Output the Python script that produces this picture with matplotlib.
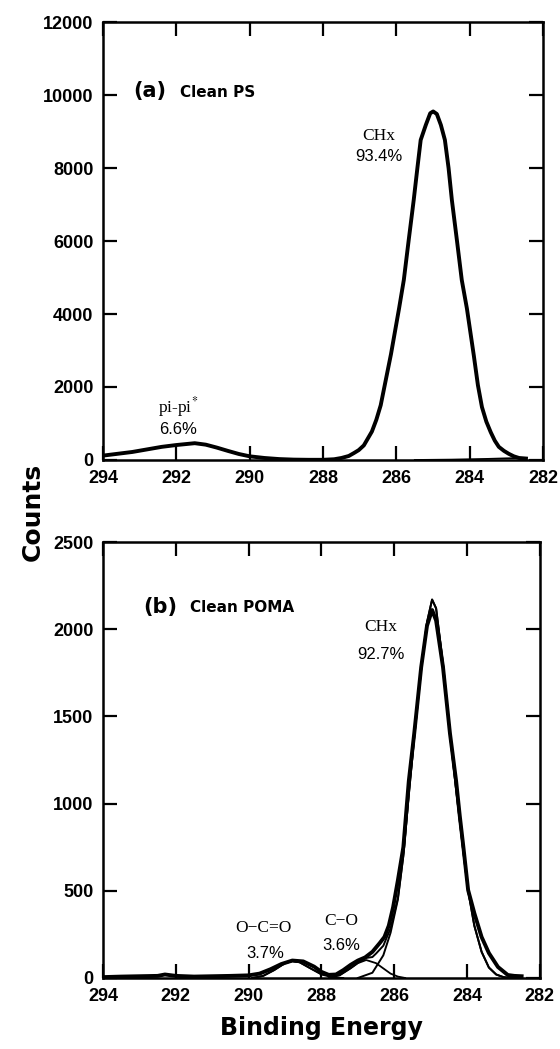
import matplotlib
matplotlib.use("Agg")
import matplotlib.pyplot as plt
import numpy as np

# ---- panel (a): clean PS, C 1s spectrum
ps_energy = [294.0, 293.6, 293.2, 292.8, 292.4, 292.0, 291.7, 291.5, 291.2, 290.9,
             290.6, 290.3, 290.0, 289.6, 289.2, 288.8, 288.4, 288.0, 287.7, 287.5,
             287.3, 287.16, 287.03, 286.89, 286.67, 286.55, 286.43, 286.3, 286.15, 285.93,
             285.8, 285.67, 285.53, 285.43, 285.34, 285.2, 285.08, 285.0, 284.9, 284.79,
             284.68, 284.58, 284.49, 284.35, 284.22, 284.08, 283.89, 283.78, 283.67, 283.55,
             283.43, 283.32, 283.21, 283.07, 282.94, 282.8, 282.66, 282.47]
ps_counts = [120, 170, 220, 290, 360, 410, 440, 460, 420, 340,
             250, 165, 100, 55, 25, 10, 5, 5, 20, 55,
             110, 190, 270, 400, 780, 1100, 1500, 2150, 2900, 4150,
             4932, 6000, 7124, 8000, 8768, 9180, 9500, 9550, 9480, 9180,
             8768, 8000, 7124, 6000, 4932, 4150, 2850, 2050, 1450, 1050,
             760, 530, 360, 250, 170, 100, 55, 40]
ps_bg_energy = [285.5, 284.5, 283.5, 283.0, 282.5]
ps_bg_counts = [0, 10, 30, 45, 55]

# ---- panel (b): clean POMA
poma_energy = [294.0, 293.5, 293.0, 292.5, 292.3, 292.0, 291.5, 291.0, 290.5, 290.0,
               289.7, 289.4, 289.1, 288.8, 288.5, 288.2, 288.0, 287.8, 287.6, 287.4,
               287.2, 287.0, 286.8, 286.6, 286.4, 286.27, 286.15, 286.03, 285.9, 285.75,
               285.6, 285.45, 285.26, 285.1, 284.96, 284.85, 284.66, 284.47, 284.3, 284.2,
               284.1, 283.97, 283.8, 283.6, 283.4, 283.15, 282.88, 282.7, 282.5]
poma_counts = [5, 8, 10, 12, 20, 12, 8, 10, 12, 15,
               25, 50, 80, 100, 95, 65, 35, 18, 20, 45,
               75, 100, 118, 150, 200, 235, 300, 407, 560, 750,
               1129, 1404, 1782, 2020, 2110, 2050, 1782, 1404, 1129, 930,
               750, 504, 372, 235, 143, 63, 17, 12, 10]

chx_energy = [287.0, 286.6, 286.3, 286.1, 285.9, 285.75, 285.6, 285.45, 285.26, 285.1,
              284.96, 284.85, 284.66, 284.47, 284.3, 284.2, 284.1, 283.97, 283.8, 283.6,
              283.4, 283.2, 283.0, 282.8]
chx_counts = [0, 30, 130, 260, 450, 700, 1050, 1380, 1770, 2040,
              2170, 2120, 1800, 1400, 1080, 900, 720, 500, 300, 150,
              60, 20, 5, 0]

co_energy = [287.8, 287.5, 287.2, 287.0, 286.77, 286.5, 286.3, 286.1, 285.9, 285.7]
co_counts = [0, 15, 55, 85, 103, 85, 55, 25, 8, 0]

oco_energy = [289.9, 289.6, 289.3, 289.0, 288.8, 288.6, 288.3, 288.0, 287.7, 287.4]
oco_counts = [0, 12, 45, 85, 97, 90, 55, 20, 4, 0]

env_energy = [289.9, 289.6, 289.3, 289.0, 288.8, 288.6, 288.3, 288.0, 287.7, 287.5,
              287.2, 287.0, 286.77, 286.6, 286.5, 286.3, 286.1, 285.9, 285.75, 285.6,
              285.45, 285.26, 285.1, 284.96, 284.85, 284.66, 284.47, 284.3, 284.2, 284.1,
              283.97, 283.8, 283.6, 283.4, 283.2, 283.0, 282.8, 282.5]
env_counts = [0, 12, 45, 85, 97, 90, 55, 22, 12, 17,
              57, 87, 115, 120, 140, 185, 285, 458, 702, 1050,
              1380, 1770, 2040, 2170, 2120, 1800, 1400, 1080, 900, 720,
              500, 300, 150, 60, 20, 5, 0, 0]

x_ticks = [294, 292, 290, 288, 286, 284, 282]
ps_yticks = [0, 2000, 4000, 6000, 8000, 10000, 12000]
poma_yticks = [0, 500, 1000, 1500, 2000, 2500]

plt.rcParams["mathtext.fontset"] = "stix"
tick_font = {"family": "Liberation Sans", "weight": "bold", "size": 13}
serif = "Liberation Serif"
sans = "Liberation Sans"

fig = plt.figure(figsize=(5.6, 10.49), dpi=100)
ax1 = fig.add_axes([0.184, 0.5615, 0.786, 0.4175])
ax2 = fig.add_axes([0.184, 0.0677, 0.780, 0.4156])

for ax, yt in zip([ax1, ax2], [ps_yticks, poma_yticks]):
    ax.set_xlim(294, 282)
    ax.set_ylim(yt[0], yt[-1])
    ax.set_xticks(x_ticks)
    ax.set_yticks(yt)
    ax.set_xticklabels([str(t) for t in x_ticks], fontdict=tick_font)
    ax.set_yticklabels([str(t) for t in yt], fontdict=tick_font)
    ax.tick_params(direction="in", length=10, width=1.6, top=True, right=True, pad=7)
    for sp in ax.spines.values():
        sp.set_linewidth(1.8)

# (a) clean PS
ax1.plot(ps_energy, ps_counts, color="black", lw=2.8, solid_joinstyle="round")
ax1.plot(ps_bg_energy, ps_bg_counts, color="black", lw=1.3)
ax1.text(0.068, 0.842, "(a)", transform=ax1.transAxes, fontsize=15,
         fontweight="bold", family="DejaVu Sans", va="center")
ax1.text(0.175, 0.840, "Clean PS", transform=ax1.transAxes, fontsize=11,
         fontweight="bold", family="DejaVu Sans", va="center")
ax1.text(286.48, 8878, "CHx", family=serif, fontsize=12.5, ha="center", va="center")
ax1.text(286.48, 8302, "93.4%", family=sans, fontsize=12, ha="center", va="center")
ax1.text(291.96, 1452, "pi-pi$^{*}$", family=serif, fontsize=12.5, ha="center", va="center")
ax1.text(291.96, 822, "6.6%", family=sans, fontsize=12, ha="center", va="center")

# (b) clean POMA
ax2.plot(poma_energy, poma_counts, color="black", lw=2.8, solid_joinstyle="round")
ax2.plot(env_energy, env_counts, color="black", lw=1.4)
ax2.plot(chx_energy, chx_counts, color="black", lw=1.4)
ax2.plot(co_energy, co_counts, color="black", lw=1.3)
ax2.plot(oco_energy, oco_counts, color="black", lw=1.3)
ax2.text(0.092, 0.851, "(b)", transform=ax2.transAxes, fontsize=15,
         fontweight="bold", family="DejaVu Sans", va="center")
ax2.text(0.199, 0.849, "Clean POMA", transform=ax2.transAxes, fontsize=11,
         fontweight="bold", family="DejaVu Sans", va="center")
ax2.text(286.36, 2011, "CHx", family=serif, fontsize=12.5, ha="center", va="center")
ax2.text(286.36, 1857, "92.7%", family=sans, fontsize=12, ha="center", va="center")
ax2.text(289.59, 287, "O\u2212C=O", family=serif, fontsize=12.5, ha="center", va="center")
ax2.text(289.55, 138, "3.7%", family=sans, fontsize=12, ha="center", va="center")
ax2.text(287.45, 327, "C\u2212O", family=serif, fontsize=12.5, ha="center", va="center")
ax2.text(287.45, 189, "3.6%", family=sans, fontsize=12, ha="center", va="center")

ax2.set_xlabel("Binding Energy", fontsize=17, fontweight="bold", family="DejaVu Sans", labelpad=8)
fig.text(33 / 560, 1 - 512 / 1049, "Counts", rotation=90, fontsize=18,
         fontweight="bold", family="DejaVu Sans", ha="center", va="center")

fig.savefig("out.png", dpi=100)
